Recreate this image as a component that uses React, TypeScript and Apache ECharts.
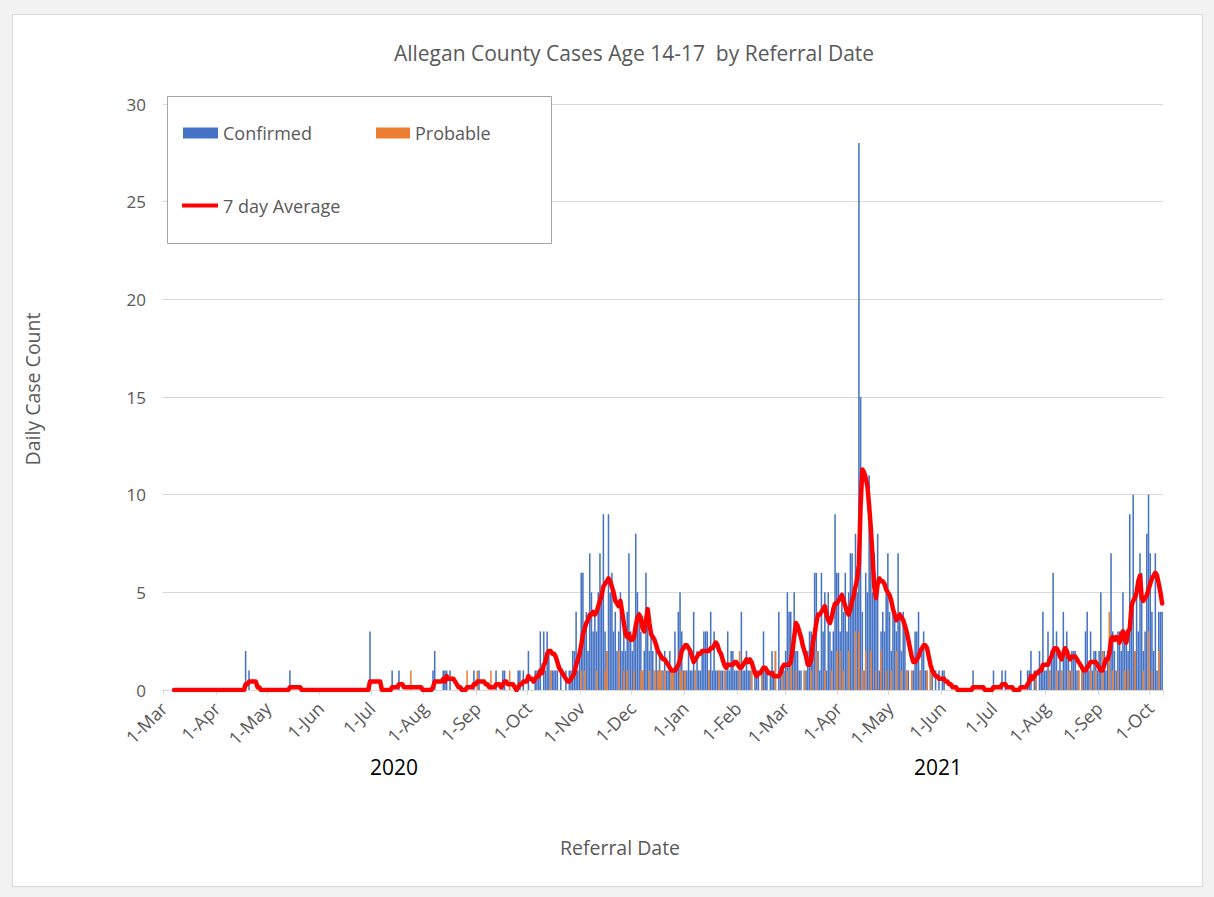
import React, { useEffect, useRef } from "react";
import * as echarts from "echarts";

const TITLE = "Allegan County Cases Age 14-17  by Referral Date";
const X_TITLE = "Referral Date";
const Y_TITLE = "Daily Case Count";
const YEARS = ["2020", "2021"];
const MONTH_NAMES = ["Jan", "Feb", "Mar", "Apr", "May", "Jun", "Jul", "Aug", "Sep", "Oct", "Nov", "Dec"];
const SERIES_NAMES = ["Confirmed", "Probable", "7 day Average"];
const Y_MIN = 0;
const Y_MAX = 30;
const Y_STEP = 5;

// daily values, 1-Mar-2020 .. 8-Oct-2021
const CONFIRMED = [
  // Mar 2020
  0,0,0,0,0,0,0,0,0,0, 0,0,0,0,0,0,0,0,0,0, 0,0,0,0,0,0,0,0,0,0, 0,
  // Apr 2020
  0,0,0,0,0,0,0,0,0,0, 0,0,0,0,0,0,0,2,0,1, 0,0,0,0,0,0,0,0,0,0,
  // May 2020
  0,0,0,0,0,0,0,0,0,0, 0,0,0,1,0,0,0,0,0,0, 0,0,0,0,0,0,0,0,0,0, 0,
  // Jun 2020
  0,0,0,0,0,0,0,0,0,0, 0,0,0,0,0,0,0,0,0,0, 0,0,0,0,0,0,0,0,0,3,
  // Jul 2020
  0,0,0,0,0,0,0,0,0,0, 0,0,1,0,0,0,1,0,0,0, 0,0,0,0,0,0,0,0,0,0, 0,
  // Aug 2020
  0,0,0,0,0,1,2,0,0,0, 0,1,1,1,0,1,0,0,0,0, 0,0,0,0,0,0,0,0,0,1, 0,
  // Sep 2020
  0,1,0,0,0,0,0,0,0,0, 0,1,0,0,0,1,1,0,0,0, 0,0,0,0,1,1,0,1,0,0,
  // Oct 2020
  2,0,0,0,1,1,1,3,0,3, 1,3,2,1,1,1,1,1,0,1, 0,0,1,0,1,1,2,2,4,1, 2,
  // Nov 2020
  6,6,3,4,2,7,5,3,4,3, 5,7,5,9,3,2,9,5,6,3, 4,2,3,5,2,3,2,4,7,3,
  // Dec 2020
  2,3,8,5,4,3,1,2,6,4, 2,3,2,1,2,1,2,1,1,2, 1,1,2,1,1,3,1,4,5,3, 1,
  // Jan 2021
  1,1,2,1,1,4,1,2,1,1, 2,3,3,3,1,4,1,3,1,1, 1,1,1,0,1,3,1,2,2,1, 1,
  // Feb 2021
  1,1,4,1,1,2,1,1,1,0, 1,1,1,0,1,3,1,1,0,1, 2,1,2,0,4,1,1,1,
  // Mar 2021
  2,5,4,4,2,5,2,2,1,1, 0,1,1,2,3,3,2,6,6,2, 1,6,3,5,1,5,3,2,3,9, 6,
  // Apr 2021
  6,3,5,4,6,3,5,7,7,5, 8,5,28,15,4,1,6,5,11,9, 5,7,5,8,1,3,4,3,5,7,
  // May 2021
  4,2,4,4,3,7,4,2,4,3, 1,1,0,1,1,3,3,4,1,2, 3,1,1,0,1,1,0,1,0,1, 0,
  // Jun 2021
  1,1,0,0,0,0,0,0,0,0, 0,0,0,0,0,0,0,0,1,0, 0,0,0,0,0,0,0,0,0,0,
  // Jul 2021
  1,0,0,0,0,1,0,1,0,0, 0,0,0,0,0,0,1,0,0,0, 1,1,2,0,1,1,0,2,1,4, 1,
  // Aug 2021
  1,3,1,2,6,2,3,1,2,1, 4,2,3,2,1,2,2,2,1,1, 0,1,1,3,4,1,3,1,2,2, 1,
  // Sep 2021
  2,5,2,2,1,2,2,7,3,2, 1,3,3,2,5,3,3,2,9,4, 10,2,5,3,7,6,2,3,8,10,
  // Oct 2021
  7,4,2,7,1,4,4,4,
];

const PROBABLE = [
  // Mar 2020
  0,0,0,0,0,0,0,0,0,0, 0,0,0,0,0,0,0,0,0,0, 0,0,0,0,0,0,0,0,0,0, 0,
  // Apr 2020
  0,0,0,0,0,0,0,0,0,0, 0,0,0,0,0,0,0,0,0,0, 0,0,0,0,0,0,0,0,0,0,
  // May 2020
  0,0,0,0,0,0,0,0,0,0, 0,0,0,0,0,0,0,0,0,0, 0,0,0,0,0,0,0,0,0,0, 0,
  // Jun 2020
  0,0,0,0,0,0,0,0,0,0, 0,0,0,0,0,0,0,0,0,0, 0,0,0,0,0,0,0,0,0,0,
  // Jul 2020
  0,0,0,0,0,0,0,0,0,0, 0,0,0,0,0,0,0,0,0,0, 0,0,0,1,0,0,0,0,0,0, 0,
  // Aug 2020
  0,0,0,0,0,0,0,0,0,0, 0,0,0,0,0,0,0,0,0,0, 0,0,0,0,0,1,0,0,0,0, 0,
  // Sep 2020
  1,0,0,0,0,0,0,0,1,0, 0,0,0,0,0,0,0,0,0,1, 0,0,0,0,0,0,0,0,0,0,
  // Oct 2020
  0,0,0,0,0,0,0,0,0,0, 0,0,0,1,0,0,0,0,0,0, 0,0,0,0,0,0,0,0,0,0, 0,
  // Nov 2020
  1,0,1,0,0,0,0,0,0,1, 0,0,0,0,1,2,0,0,0,0, 0,0,2,0,0,1,0,1,0,0,
  // Dec 2020
  0,1,0,0,0,1,1,0,0,0, 1,0,0,1,0,1,1,1,0,1, 0,0,0,1,1,0,0,0,1,1, 0,
  // Jan 2021
  1,0,0,0,0,0,1,0,0,0, 0,0,0,0,1,0,0,0,0,0, 1,0,0,1,0,0,0,0,0,0, 0,
  // Feb 2021
  0,2,0,0,0,0,0,0,1,0, 0,0,0,0,1,0,0,0,0,0, 0,0,2,0,0,0,1,0,
  // Mar 2021
  0,1,0,2,0,0,1,0,0,0, 0,1,0,0,0,1,0,0,2,0, 0,0,0,1,0,0,0,1,0,0, 2,
  // Apr 2021
  0,2,0,1,0,0,2,0,0,0, 3,0,3,0,1,0,2,0,0,2, 0,0,1,0,0,2,0,0,1,0,
  // May 2021
  0,1,0,0,2,0,0,1,0,0, 1,0,0,1,0,0,0,0,1,0, 0,0,1,0,1,0,0,0,0,0, 0,
  // Jun 2021
  0,0,0,0,0,0,0,0,0,0, 0,0,0,0,0,0,0,0,0,0, 0,0,0,0,0,0,0,0,0,0,
  // Jul 2021
  0,0,0,0,0,0,0,0,0,0, 0,0,0,0,0,0,0,0,0,0, 0,0,0,0,0,1,0,0,0,0, 0,
  // Aug 2021
  0,0,1,0,0,0,1,0,0,1, 0,0,0,1,0,1,0,0,0,1, 0,1,0,0,0,0,1,0,0,1, 0,
  // Sep 2021
  0,0,2,0,0,0,4,0,1,0, 0,1,0,0,0,1,0,1,0,0, 0,2,0,0,0,0,1,0,0,3,
  // Oct 2021
  0,1,0,0,0,2,0,0,
];

const AVERAGE = [
  // Mar 2020
  null,null,null,null,null,null,0,0,0,0, 0,0,0,0,0,0,0,0,0,0, 0,0,0,0,0,0,0,0,0,0, 0,
  // Apr 2020
  0,0,0,0,0,0,0,0,0,0, 0,0,0,0,0,0,0,0.29,0.29,0.43, 0.43,0.43,0.43,0.43,0.14,0.14,0,0,0,0,
  // May 2020
  0,0,0,0,0,0,0,0,0,0, 0,0,0,0.14,0.14,0.14,0.14,0.14,0.14,0.14, 0,0,0,0,0,0,0,0,0,0, 0,
  // Jun 2020
  0,0,0,0,0,0,0,0,0,0, 0,0,0,0,0,0,0,0,0,0, 0,0,0,0,0,0,0,0,0,0.43,
  // Jul 2020
  0.43,0.43,0.43,0.43,0.43,0.43,0,0,0,0, 0,0,0.14,0.14,0.14,0.14,0.29,0.29,0.29,0.14, 0.14,0.14,0.14,0.14,0.14,0.14,0.14,0.14,0.14,0.14, 0,
  // Aug 2020
  0,0,0,0,0,0.14,0.43,0.43,0.43,0.43, 0.43,0.57,0.43,0.71,0.57,0.57,0.57,0.57,0.43,0.29, 0.14,0.14,0,0,0,0.14,0.14,0.14,0.14,0.29, 0.29,
  // Sep 2020
  0.43,0.43,0.43,0.43,0.43,0.29,0.29,0.14,0.14,0.14, 0.14,0.29,0.29,0.29,0.14,0.29,0.43,0.43,0.29,0.29, 0.29,0.29,0.14,0,0.14,0.29,0.29,0.43,0.43,0.43,
  // Oct 2020
  0.71,0.57,0.57,0.43,0.57,0.71,0.71,1,0.86,1.29, 1.43,1.86,2,2,1.86,1.86,1.71,1.43,1.14,1, 0.86,0.71,0.57,0.43,0.43,0.57,0.71,0.86,1.29,1.57, 1.86,
  // Nov 2020
  2.29,2.86,3.14,3.43,3.57,3.86,3.86,4,3.86,4, 4.29,4.57,4.86,5.29,5.43,5.57,5.71,5.57,5.29,5, 4.57,4.43,4.29,4.57,4,3.43,2.86,2.71,2.86,2.57,
  // Dec 2020
  2.57,2.71,3.29,3.71,3.86,3.71,3.14,3,3.57,4.14, 3.43,2.86,2.71,2.57,2.29,2,1.86,1.71,1.57,1.57, 1.43,1.29,1.14,1,1,1,1.14,1.29,1.57,2, 2.14,
  // Jan 2021
  2.29,2.29,2.14,2,1.71,1.43,1.57,1.71,1.86,1.86, 2,2,2,2,2,2.14,2.14,2.29,2.43,2.29, 2,1.86,1.57,1.29,1.14,1.29,1.29,1.29,1.29,1.43, 1.43,
  // Feb 2021
  1.29,1.14,1.14,1.29,1.43,1.57,1.43,1.57,1.43,1.14, 0.86,0.71,0.86,0.86,1,1.14,1.14,1,0.86,0.86, 0.86,0.71,0.71,0.71,0.71,0.86,1.14,1.29,
  // Mar 2021
  1.29,1.29,1.29,1.43,2,2.71,3.43,3.29,3,2.71, 2.29,2,1.71,1.29,1.29,1.57,2.43,2.86,3.43,3.86, 3.86,4,4.14,4.29,3.86,3.57,3.43,3.71,4.14,4.43, 4.43,
  // Apr 2021
  4.57,4.71,4.86,4.57,4.29,4,3.86,4.14,4.57,4.86, 5.29,5.71,6.43,9.43,11.29,11.14,10.86,10.43,9.43,8.29, 6.86,5.29,4.71,5.43,5.71,5.57,5.57,5.43,5.14,5,
  // May 2021
  4.86,4.57,4.14,3.86,3.57,3.71,3.86,3.71,3.57,3.29, 3,2.57,2.14,1.71,1.43,1.43,1.57,1.71,2,2.14, 2.29,2.29,2.14,1.71,1.29,1,0.86,0.71,0.71,0.57, 0.57,
  // Jun 2021
  0.57,0.57,0.43,0.43,0.29,0.29,0.14,0.14,0.14,0, 0,0,0,0,0,0,0,0,0.14,0.14, 0.14,0.14,0.14,0.14,0.14,0,0,0,0,0,
  // Jul 2021
  0.14,0.14,0.14,0.14,0.14,0.29,0.29,0.29,0.14,0.14, 0.14,0.14,0,0,0,0,0.14,0.14,0.14,0.14, 0.29,0.43,0.71,0.57,0.71,0.86,0.86,1,1,1.29, 1.29,
  // Aug 2021
  1.29,1.29,1.57,1.71,2,2.14,2.14,2,1.71,1.57, 1.86,2.14,2,1.71,1.57,1.71,1.71,1.71,1.57,1.43, 1.29,1.14,1,1,1.14,1.29,1.43,1.43,1.43,1.43, 1.29,
  // Sep 2021
  1.14,1,1,1.29,1.57,1.57,1.86,2.57,2.71,2.57, 2.71,2.57,2.43,2.86,3,2.57,2.43,3,3.14,4.29, 4.57,4.71,5,5.57,5.86,4.71,4.57,4.71,4.86,5.14,
  // Oct 2021
  5.43,5.71,5.86,6,5.86,5.43,5,4.43,
];

const START_UTC = Date.UTC(2020, 2, 1);
const DAY_MS = 86400000;

function dateKey(i: number): string {
  const d = new Date(START_UTC + i * DAY_MS);
  const m = String(d.getUTCMonth() + 1).padStart(2, "0");
  const day = String(d.getUTCDate()).padStart(2, "0");
  return `${d.getUTCFullYear()}-${m}-${day}`;
}

const DATES = CONFIRMED.map((_, i) => dateKey(i));

const isMonthStart = (_: number, value: string) => String(value).endsWith("-01");

const FONT = "'Open Sans', 'Noto Sans', sans-serif";
const GREY_TEXT = "#595959";
const BLUE = "#4472C4";
const ORANGE = "#ED7D31";
const RED = "#FF0000";

export default function App() {
  const ref = useRef<HTMLDivElement>(null);

  useEffect(() => {
    if (!ref.current) return;
    const chart = echarts.init(ref.current, undefined, { renderer: "svg" });
    const legendText = { color: GREY_TEXT, fontSize: 18, fontFamily: FONT };
    const option: any = {
      animation: false,
      textStyle: { fontFamily: FONT },
      grid: { left: 163, right: 51, top: 104, bottom: 207, containLabel: false },
      xAxis: {
        type: "category",
        data: DATES,
        boundaryGap: true,
        axisLine: { lineStyle: { color: "#d9d9d9", width: 1 } },
        axisTick: {
          show: true,
          interval: isMonthStart,
          length: 5,
          alignWithLabel: false,
          lineStyle: { color: "#d9d9d9" },
        },
        axisLabel: {
          interval: isMonthStart,
          rotate: 45,
          margin: 15,
          color: GREY_TEXT,
          fontSize: 18,
          fontFamily: FONT,
          formatter: (v: string) => {
            const parts = v.split("-");
            return `${Number(parts[2])}-${MONTH_NAMES[Number(parts[1]) - 1]}`;
          },
        },
        splitLine: { show: false },
      },
      yAxis: {
        type: "value",
        min: Y_MIN,
        max: Y_MAX,
        interval: Y_STEP,
        axisLine: { show: false },
        axisTick: { show: false },
        axisLabel: { color: GREY_TEXT, fontSize: 17, margin: 17, fontFamily: FONT },
        splitLine: { lineStyle: { color: "#d9d9d9", width: 1 } },
      },
      legend: [
        {
          data: [SERIES_NAMES[0]],
          left: 183,
          top: 124,
          padding: 0,
          icon: "rect",
          itemWidth: 35,
          itemHeight: 11,
          itemGap: 0,
          selectedMode: false,
          z: 6,
          textStyle: legendText,
        },
        {
          data: [SERIES_NAMES[1]],
          left: 376,
          top: 124,
          padding: 0,
          icon: "rect",
          itemWidth: 34,
          itemHeight: 11,
          itemGap: 0,
          selectedMode: false,
          z: 6,
          textStyle: legendText,
        },
        {
          data: [SERIES_NAMES[2]],
          left: 182,
          top: 196.5,
          padding: 0,
          icon: "rect",
          itemWidth: 36,
          itemHeight: 4,
          itemGap: 0,
          selectedMode: false,
          z: 6,
          textStyle: legendText,
        },
      ],
      graphic: [
        {
          type: "rect",
          z: 3,
          shape: { x: 167.5, y: 96.5, width: 384, height: 147 },
          style: { fill: "#ffffff", stroke: "#a6a6a6", lineWidth: 1 },
        },
        {
          type: "text",
          x: 634,
          y: 53,
          style: {
            text: TITLE,
            textAlign: "center",
            textVerticalAlign: "middle",
            fill: GREY_TEXT,
            font: `21px ${FONT}`,
          },
        },
        {
          type: "text",
          x: 32,
          y: 389,
          rotation: Math.PI / 2,
          style: {
            text: Y_TITLE,
            textAlign: "center",
            textVerticalAlign: "middle",
            fill: GREY_TEXT,
            font: `19.5px ${FONT}`,
          },
        },
        {
          type: "text",
          x: 620,
          y: 847,
          style: {
            text: X_TITLE,
            textAlign: "center",
            textVerticalAlign: "middle",
            fill: GREY_TEXT,
            font: `19.5px ${FONT}`,
          },
        },
        {
          type: "text",
          x: 394,
          y: 767,
          style: {
            text: YEARS[0],
            textAlign: "center",
            textVerticalAlign: "middle",
            fill: "#000000",
            font: `21px ${FONT}`,
          },
        },
        {
          type: "text",
          x: 938,
          y: 767,
          style: {
            text: YEARS[1],
            textAlign: "center",
            textVerticalAlign: "middle",
            fill: "#000000",
            font: `21px ${FONT}`,
          },
        },
      ],
      series: [
        {
          name: SERIES_NAMES[0],
          type: "bar",
          data: CONFIRMED,
          barGap: "-100%",
          barCategoryGap: "10%",
          itemStyle: { color: BLUE },
          z: 2,
        },
        {
          name: SERIES_NAMES[1],
          type: "bar",
          data: PROBABLE,
          barGap: "-100%",
          barCategoryGap: "10%",
          itemStyle: { color: ORANGE },
          z: 3,
        },
        {
          name: SERIES_NAMES[2],
          type: "line",
          data: AVERAGE,
          symbol: "none",
          showSymbol: false,
          connectNulls: false,
          lineStyle: { color: RED, width: 4.5, join: "round", cap: "round" },
          itemStyle: { color: RED },
          z: 4,
        },
      ],
    };
    chart.setOption(option);
    return () => chart.dispose();
  }, []);

  return (
    <div
      style={{
        position: "absolute",
        left: 0,
        top: 0,
        width: 1214,
        height: 897,
        background: "#f2f2f2",
      }}
    >
      <div
        style={{
          position: "absolute",
          left: 12,
          top: 14,
          width: 1191,
          height: 873,
          boxSizing: "border-box",
          background: "#ffffff",
          border: "1px solid #d9d9d9",
        }}
      />
      <div ref={ref} style={{ position: "absolute", left: 0, top: 0, width: 1214, height: 897 }} />
    </div>
  );
}
